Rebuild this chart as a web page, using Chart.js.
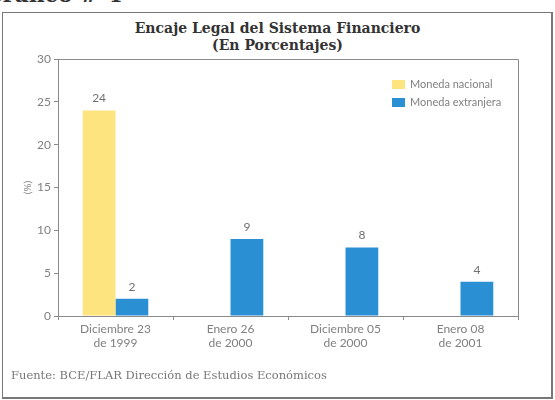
<!DOCTYPE html>
<html>
<head>
<meta charset="utf-8">
<script src="https://cdn.jsdelivr.net/npm/chart.js@4"></script>
<style>
    html, body { margin: 0; padding: 0; background: #fff; overflow: hidden; }
    #page { position: relative; width: 555px; height: 400px; }
    #header { position: absolute; left: -16px; top: -19px; font: bold 22px "DejaVu Serif", serif; color: #333; white-space: nowrap; }
    #frame { position: absolute; left: 2px; top: 12px; width: 548px; height: 384px; border: 1px solid #777; border-right-width: 2px; border-bottom-width: 2px; }
    #title { position: absolute; left: 0; width: 555px; top: 20px; text-align: center; font: bold 14px/17px "DejaVu Serif", serif; color: #333; }
    #footer { position: absolute; left: 11px; top: 368px; font: 11.5px "DejaVu Serif", serif; color: #777; white-space: nowrap; }
    #chartBox { position: absolute; left: 0; top: 0; width: 555px; height: 400px; }
</style>
</head>
<body>
<div id="page">
    <div id="header">Gráfico # 4</div>
    <div id="frame"></div>
    <div id="title">Encaje Legal del Sistema Financiero<br>(En Porcentajes)</div>
    <div id="chartBox"><canvas id="encajeChart" width="555" height="400"></canvas></div>
    <div id="footer">Fuente: BCE/FLAR Dirección de Estudios Económicos</div>
</div>
<script>
// données
const fechas = [['Diciembre 23', 'de 1999'], ['Enero 26', 'de 2000'], ['Diciembre 05', 'de 2000'], ['Enero 08', 'de 2001']];
const monedaNacional = [24, null, null, null];
const monedaExtranjera = [2, 9, 8, 4];
const yTicks = [0, 5, 10, 15, 20, 25, 30];

const grisTexto = '#808080';
const grisLinea = '#8a8a8a';

// étiquettes de valeur au-dessus des barres
const valueLabels = {
    id: 'valueLabels',
    afterDatasetsDraw(chart) {
        const ctx = chart.ctx;
        ctx.save();
        ctx.font = '12px Lato';
        ctx.fillStyle = '#707070';
        ctx.textAlign = 'center';
        ctx.textBaseline = 'bottom';
        chart.data.datasets.forEach((ds, i) => {
            chart.getDatasetMeta(i).data.forEach((bar, j) => {
                if (ds.data[j] == null) return;
                ctx.fillText(ds.data[j], bar.x, bar.y - 6);
            });
        });
        ctx.restore();
    }
};

// cadre du graphique + légende dans la zone de tracé
const plotBox = {
    id: 'plotBox',
    afterDraw(chart) {
        const ctx = chart.ctx;
        const a = chart.chartArea;
        ctx.save();
        ctx.strokeStyle = grisLinea;
        ctx.lineWidth = 1;
        ctx.beginPath();
        ctx.moveTo(a.left, a.top + 0.5);
        ctx.lineTo(a.right + 0.5, a.top + 0.5);
        ctx.lineTo(a.right + 0.5, a.bottom);
        ctx.stroke();

        // légende
        ctx.font = '11px Lato';
        ctx.textBaseline = 'middle';
        ctx.textAlign = 'left';
        chart.data.datasets.forEach((ds, i) => {
            const y = 84 + i * 18;
            ctx.fillStyle = ds.backgroundColor;
            ctx.fillRect(392, y - 4, 13, 9);
            ctx.fillStyle = grisTexto;
            ctx.fillText(ds.label, 410, y);
        });
        ctx.restore();
    }
};

const ctx = document.getElementById('encajeChart').getContext('2d');
const encajeChart = new Chart(ctx, {
    type: 'bar',
    data: {
        labels: fechas,
        datasets: [{
            label: 'Moneda nacional',
            data: monedaNacional,
            backgroundColor: '#FDE47E',
            barPercentage: 1,
            categoryPercentage: 0.57,
        }, {
            label: 'Moneda extranjera',
            data: monedaExtranjera,
            backgroundColor: '#2B8FD4',
            barPercentage: 1,
            categoryPercentage: 0.57,
        }]
    },
    options: {
        responsive: false,
        animation: false,
        layout: {
            padding: { left: 0, top: 59, right: 37, bottom: 0 }
        },
        plugins: {
            legend: { display: false },
            title: { display: false },
            tooltip: { enabled: false }
        },
        scales: {
            x: {
                afterFit(scale) { scale.height = 84; },
                grid: {
                    drawOnChartArea: false,
                    drawTicks: true,
                    tickLength: 4,
                    tickColor: grisLinea
                },
                border: { color: grisLinea },
                ticks: {
                    color: grisTexto,
                    font: { family: 'Lato', size: 12 },
                    padding: 2,
                    maxRotation: 0
                }
            },
            y: {
                min: 0,
                max: 30,
                afterFit(scale) { scale.width = 58; },
                afterBuildTicks(scale) { scale.ticks = yTicks.map(v => ({ value: v })); },
                grid: {
                    drawOnChartArea: false,
                    drawTicks: true,
                    tickLength: 4,
                    tickColor: grisLinea
                },
                border: { color: grisLinea },
                ticks: {
                    color: grisTexto,
                    font: { family: 'Lato', size: 12 },
                    padding: 3
                },
                title: {
                    display: true,
                    text: '(%)',
                    color: grisTexto,
                    font: { family: 'Lato', size: 10 },
                    padding: { top: 22, bottom: 0 }
                }
            }
        }
    },
    plugins: [valueLabels, plotBox]
});
</script>
</body>
</html>
